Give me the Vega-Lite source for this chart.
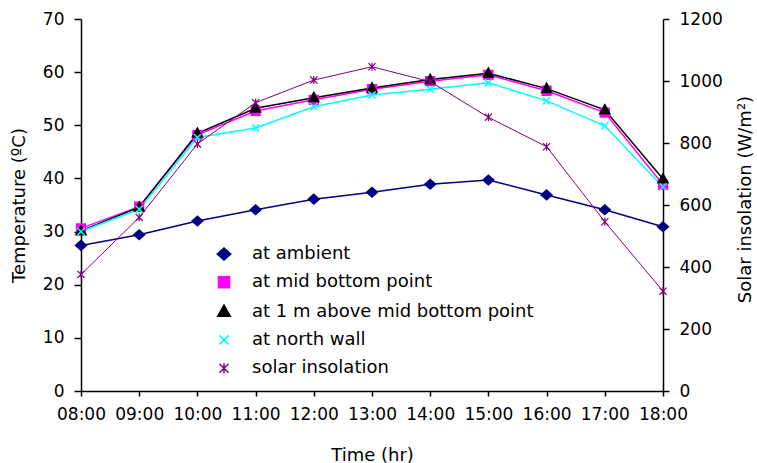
{
  "$schema": "https://vega.github.io/schema/vega-lite/v6.json",
  "width": 582,
  "height": 372,
  "autosize": {"type": "none"},
  "padding": {"left": 81, "top": 19, "right": 94, "bottom": 72},
  "background": "white",
  "config": {
    "view": {"stroke": null},
    "font": "DejaVu Sans",
    "axis": {
      "grid": false,
      "domainColor": "black",
      "domainWidth": 1.5,
      "tickColor": "black",
      "tickWidth": 1.5,
      "labelFont": "DejaVu Sans",
      "labelFontSize": 17,
      "labelColor": "black",
      "titleFont": "DejaVu Sans",
      "titleFontSize": 18,
      "titleFontWeight": "normal",
      "titleColor": "black"
    },
    "legend": {
      "orient": "none",
      "legendX": 134,
      "legendY": 226,
      "padding": 0,
      "rowPadding": 10.3,
      "symbolSize": 100,
      "symbolStrokeWidth": 1.5,
      "labelFont": "DejaVu Sans",
      "labelFontSize": 18,
      "labelColor": "black",
      "labelOffset": 19,
      "labelLimit": 500,
      "title": null
    }
  },
  "data": {
    "values": [
      {"time": "08:00", "series": "at ambient", "value": 27.4},
      {"time": "09:00", "series": "at ambient", "value": 29.4},
      {"time": "10:00", "series": "at ambient", "value": 32.0},
      {"time": "11:00", "series": "at ambient", "value": 34.1},
      {"time": "12:00", "series": "at ambient", "value": 36.1},
      {"time": "13:00", "series": "at ambient", "value": 37.4},
      {"time": "14:00", "series": "at ambient", "value": 38.9},
      {"time": "15:00", "series": "at ambient", "value": 39.7},
      {"time": "16:00", "series": "at ambient", "value": 36.9},
      {"time": "17:00", "series": "at ambient", "value": 34.1},
      {"time": "18:00", "series": "at ambient", "value": 30.9},
      {"time": "08:00", "series": "at mid bottom point", "value": 30.6},
      {"time": "09:00", "series": "at mid bottom point", "value": 34.7},
      {"time": "10:00", "series": "at mid bottom point", "value": 48.2},
      {"time": "11:00", "series": "at mid bottom point", "value": 52.7},
      {"time": "12:00", "series": "at mid bottom point", "value": 54.8},
      {"time": "13:00", "series": "at mid bottom point", "value": 56.8},
      {"time": "14:00", "series": "at mid bottom point", "value": 58.3},
      {"time": "15:00", "series": "at mid bottom point", "value": 59.5},
      {"time": "16:00", "series": "at mid bottom point", "value": 56.5},
      {"time": "17:00", "series": "at mid bottom point", "value": 52.4},
      {"time": "18:00", "series": "at mid bottom point", "value": 38.8},
      {"time": "08:00", "series": "at 1 m above mid bottom point", "value": 30.1},
      {"time": "09:00", "series": "at 1 m above mid bottom point", "value": 34.6},
      {"time": "10:00", "series": "at 1 m above mid bottom point", "value": 48.5},
      {"time": "11:00", "series": "at 1 m above mid bottom point", "value": 53.2},
      {"time": "12:00", "series": "at 1 m above mid bottom point", "value": 55.2},
      {"time": "13:00", "series": "at 1 m above mid bottom point", "value": 57.0},
      {"time": "14:00", "series": "at 1 m above mid bottom point", "value": 58.6},
      {"time": "15:00", "series": "at 1 m above mid bottom point", "value": 59.8},
      {"time": "16:00", "series": "at 1 m above mid bottom point", "value": 56.9},
      {"time": "17:00", "series": "at 1 m above mid bottom point", "value": 52.9},
      {"time": "18:00", "series": "at 1 m above mid bottom point", "value": 39.9},
      {"time": "08:00", "series": "at north wall", "value": 30.0},
      {"time": "09:00", "series": "at north wall", "value": 34.2},
      {"time": "10:00", "series": "at north wall", "value": 47.7},
      {"time": "11:00", "series": "at north wall", "value": 49.5},
      {"time": "12:00", "series": "at north wall", "value": 53.5},
      {"time": "13:00", "series": "at north wall", "value": 55.7},
      {"time": "14:00", "series": "at north wall", "value": 56.8},
      {"time": "15:00", "series": "at north wall", "value": 58.0},
      {"time": "16:00", "series": "at north wall", "value": 54.6},
      {"time": "17:00", "series": "at north wall", "value": 49.9},
      {"time": "18:00", "series": "at north wall", "value": 38.4},
      {"time": "08:00", "series": "solar insolation", "value": 376},
      {"time": "09:00", "series": "solar insolation", "value": 560},
      {"time": "10:00", "series": "solar insolation", "value": 797},
      {"time": "11:00", "series": "solar insolation", "value": 930},
      {"time": "12:00", "series": "solar insolation", "value": 1003},
      {"time": "13:00", "series": "solar insolation", "value": 1046},
      {"time": "14:00", "series": "solar insolation", "value": 998},
      {"time": "15:00", "series": "solar insolation", "value": 883},
      {"time": "16:00", "series": "solar insolation", "value": 788},
      {"time": "17:00", "series": "solar insolation", "value": 546},
      {"time": "18:00", "series": "solar insolation", "value": 322}
    ]
  },
  "encoding": {
    "x": {
      "field": "time",
      "type": "ordinal",
      "scale": {"type": "point", "padding": 0, "domain": ["08:00","09:00","10:00","11:00","12:00","13:00","14:00","15:00","16:00","17:00","18:00"]},
      "axis": {"title": "Time (hr)", "labelAngle": 0, "tickSize": 5, "labelPadding": 10, "titlePadding": 24}
    },
    "stroke": {
      "field": "series",
      "type": "nominal",
      "scale": {
        "domain": ["at ambient", "at mid bottom point", "at 1 m above mid bottom point", "at north wall", "solar insolation"],
        "range": ["#000080", "#FF00FF", "#000000", "#00FFFF", "#800080"]
      }
    }
  },
  "layer": [
    {
      "transform": [{"filter": "datum.series != 'solar insolation'"}],
      "encoding": {
        "y": {
          "field": "value",
          "type": "quantitative",
          "scale": {"domain": [0, 70]},
          "axis": {"orient": "left", "title": "Temperature (ºC)", "values": [0,10,20,30,40,50,60,70], "tickSize": 7, "labelPadding": 10, "titlePadding": 14}
        }
      },
      "layer": [
        {"mark": {"type": "line", "strokeWidth": 1.5}},
        {
          "mark": {"type": "point", "size": 64, "strokeWidth": 1.5, "opacity": 1},
          "encoding": {
            "fill": {
              "field": "series",
              "type": "nominal",
              "scale": {
                "domain": ["at ambient", "at mid bottom point", "at 1 m above mid bottom point", "at north wall", "solar insolation"],
                "range": ["#000080", "#FF00FF", "#000000", "transparent", "transparent"]
              }
            },
            "shape": {
              "field": "series",
              "type": "nominal",
              "scale": {
                "domain": ["at ambient", "at mid bottom point", "at 1 m above mid bottom point", "at north wall", "solar insolation"],
                "range": [
                  "M-1.35,0L0,-1.2L1.35,0L0,1.2Z",
                  "M-1.1,-1.1H1.1V1.1H-1.1Z",
                  "M0,-1.3L1.25,0.95L-1.25,0.95Z",
                  "M-0.9,-0.9L0.9,0.9M-0.9,0.9L0.9,-0.9",
                  "M-0.9,-0.9L0.9,0.9M-0.9,0.9L0.9,-0.9M0,-1L0,1"
                ]
              }
            }
          }
        }
      ]
    },
    {
      "transform": [{"filter": "datum.series == 'solar insolation'"}],
      "encoding": {
        "y": {
          "field": "value",
          "type": "quantitative",
          "scale": {"domain": [0, 1200]},
          "axis": {"orient": "right", "title": "Solar insolation (W/m²)", "format": "d", "values": [0,200,400,600,800,1000,1200], "tickSize": 6, "labelPadding": 10, "titleAngle": -90, "titleBaseline": "middle", "titleAlign": "center", "titleX": 82, "titleY": 180}
        }
      },
      "layer": [
        {"mark": {"type": "line", "strokeWidth": 1}},
        {
          "mark": {"type": "point", "size": 64, "strokeWidth": 1.2, "opacity": 1},
          "encoding": {
            "fill": {"field": "series", "type": "nominal"},
            "shape": {"field": "series", "type": "nominal"}
          }
        }
      ]
    }
  ],
  "resolve": {"scale": {"y": "independent"}}
}
